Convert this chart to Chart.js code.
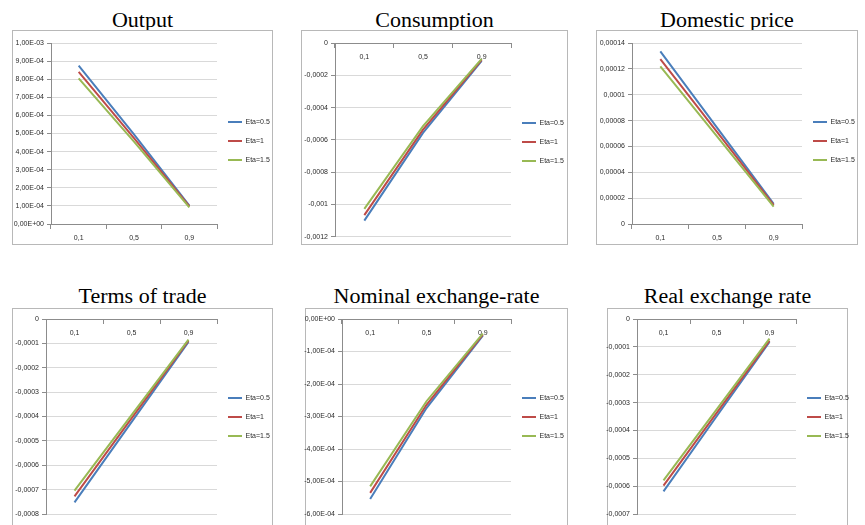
<!DOCTYPE html>
<html>
<head>
<meta charset="utf-8">
<script src="https://cdn.jsdelivr.net/npm/chart.js@4"></script>
<style>
  body { margin: 0; width: 865px; height: 525px; overflow: hidden; background: #fff; position: relative; }
  .title { position: absolute; font-family: 'Liberation Serif', 'Times New Roman', serif; font-size: 20px; line-height: 20px; text-align: center; color: #000; transform: scaleX(1.1); white-space: nowrap; }
  .frame { position: absolute; border: 1px solid #b8b8b8; box-sizing: border-box; background: #fff; }
  .frame canvas { position: absolute; top: 0; }
</style>
</head>
<body>
<script>
// Shock levels on the category axis and the three Eta series
const shockLevels = ['0,1', '0,5', '0,9'];
const etaLabels = ['Eta=0.5', 'Eta=1', 'Eta=1.5'];
const etaColors = ['#4a7ebb', '#be4b48', '#98b954'];

// Output
const outputEta05 = [8.75e-4, 4.95e-4, 1.01e-4];
const outputEta1  = [8.40e-4, 4.75e-4, 0.97e-4];
const outputEta15 = [8.05e-4, 4.55e-4, 0.92e-4];

// Consumption
const consEta05 = [-0.00110, -0.000557, -0.000110];
const consEta1  = [-0.001066, -0.000537, -0.000104];
const consEta15 = [-0.001027, -0.000515, -0.000098];

// Domestic price
const priceEta05 = [0.0001335, 0.0000745, 0.0000155];
const priceEta1  = [0.0001276, 0.0000712, 0.0000147];
const priceEta15 = [0.0001219, 0.0000677, 0.0000134];

// Terms of trade
const totEta05 = [-0.000752, -0.000423, -0.0000944];
const totEta1  = [-0.000728, -0.000408, -0.0000889];
const totEta15 = [-0.000704, -0.000394, -0.0000848];

// Nominal exchange-rate
const nerEta05 = [-0.000554, -0.000274, -0.000051];
const nerEta1  = [-0.000535, -0.000264, -0.000048];
const nerEta15 = [-0.000515, -0.000253, -0.000045];

// Real exchange rate
const rerEta05 = [-0.000619, -0.000350, -0.0000826];
const rerEta1  = [-0.000598, -0.000338, -0.0000778];
const rerEta15 = [-0.000579, -0.000325, -0.0000706];

// Axis ranges: [min, max, step]
const outputRange = [0, 0.001, 0.0001];
const consRange = [-0.0012, 0, 0.0002];
const priceRange = [0, 0.00014, 0.00002];
const totRange = [-0.0008, 0, 0.0001];
const nerRange = [-0.0006, 0, 0.0001];
const rerRange = [-0.0007, 0, 0.0001];

// "1,00E-03" style
function sci(v) {
    if (Math.abs(v) < 1e-12) v = 0;
    const [m, e] = v.toExponential(2).split('e');
    const n = parseInt(e, 10);
    return m.replace('.', ',') + 'E' + (n < 0 ? '-' : '+') + String(Math.abs(n)).padStart(2, '0');
}

// "-0,0002" style
function dec(v) {
    if (Math.abs(v) < 1e-12) return '0';
    return String(Number(v.toPrecision(6))).replace('.', ',');
}

const panels = [
    { title: 'Output', series: [outputEta05, outputEta1, outputEta15], range: outputRange, fmt: sci,
      box: [12, 30, 261, 215], titleTop: 10, left: 38, right: 55, top: 12, bottom: 20, legendMid: 110 },
    { title: 'Consumption', series: [consEta05, consEta1, consEta15], range: consRange, fmt: dec,
      box: [301, 30, 267, 215], titleTop: 10, left: 33, right: 56, top: 12, bottom: 5, legendMid: 110 },
    { title: 'Domestic price', series: [priceEta05, priceEta1, priceEta15], range: priceRange, fmt: dec,
      box: [596, 30, 262, 215], titleTop: 10, left: 35, right: 55, top: 12, bottom: 20, legendMid: 110 },
    { title: 'Terms of trade', series: [totEta05, totEta1, totEta15], range: totRange, fmt: dec,
      box: [12, 308, 261, 230], titleTop: 286, left: 33, right: 55, top: 10, bottom: 23, legendMid: 108 },
    { title: 'Nominal exchange-rate', series: [nerEta05, nerEta1, nerEta15], range: nerRange, fmt: sci,
      box: [305, 308, 263, 230], titleTop: 286, left: 36, right: 56, top: 10, bottom: 23, legendMid: 108 },
    { title: 'Real exchange rate', series: [rerEta05, rerEta1, rerEta15], range: rerRange, fmt: dec,
      box: [607, 308, 241, 230], titleTop: 286, left: 29, right: 51, top: 10, bottom: 23, legendMid: 108 }
];

// Canvas overhang past the frame so long tick and legend labels are not cut
const overhang = 8;

const tickFont = { family: "'Liberation Sans Narrow', 'Liberation Sans', sans-serif", size: 7 };
const textColor = '#2b2b2b';
const axisColor = '#8c8c8c';
const gridColor = '#d9d9d9';

// Fixed legend width and position next to the plot area
const legendFit = {
    id: 'legendFit',
    afterInit(chart, args, opts) {
        const legend = chart.legend;
        const fit = legend.fit;
        legend.fit = function () {
            fit.call(this);
            this.width = opts.width;
        };
    },
    afterLayout(chart, args, opts) {
        const legend = chart.legend;
        const dy = opts.mid - (chart.chartArea.top + chart.chartArea.bottom) / 2;
        legend.top += dy;
        legend.bottom += dy;
        legend.left += opts.dx;
        legend.right += opts.dx;
    }
};

panels.forEach(p => {
    const [bx, by, bw, bh] = p.box;

    const title = document.createElement('div');
    title.className = 'title';
    title.style.left = bx + 'px';
    title.style.top = p.titleTop + 'px';
    title.style.width = bw + 'px';
    title.textContent = p.title;
    document.body.appendChild(title);

    const frame = document.createElement('div');
    frame.className = 'frame';
    frame.style.left = bx + 'px';
    frame.style.top = by + 'px';
    frame.style.width = bw + 'px';
    frame.style.height = bh + 'px';
    const canvas = document.createElement('canvas');
    canvas.width = bw - 2 + overhang * 2;
    canvas.height = bh - 2;
    canvas.style.left = -overhang + 'px';
    frame.appendChild(canvas);
    document.body.appendChild(frame);

    const [min, max, step] = p.range;

    new Chart(canvas, {
        type: 'line',
        data: {
            labels: shockLevels,
            datasets: p.series.map((s, i) => ({
                label: etaLabels[i],
                data: s,
                borderColor: etaColors[i],
                backgroundColor: etaColors[i],
                borderWidth: 2,
                pointRadius: 0,
                tension: 0,
                order: 2 - i
            }))
        },
        options: {
            responsive: false,
            animation: false,
            layout: { padding: { left: 0, right: 0, top: p.top, bottom: p.bottom } },
            plugins: {
                legend: {
                    position: 'right',
                    align: 'center',
                    labels: {
                        boxWidth: 14,
                        boxHeight: 0,
                        padding: 12,
                        color: textColor,
                        font: tickFont,
                        sort: (a, b) => a.datasetIndex - b.datasetIndex
                    }
                },
                tooltip: { enabled: false },
                legendFit: { width: p.right + overhang, mid: p.legendMid, dx: -1 }
            },
            scales: {
                x: {
                    position: { y: 0 },
                    offset: true,
                    grid: { offset: true, drawOnChartArea: false, tickLength: 4, color: axisColor },
                    border: { color: axisColor },
                    ticks: { color: textColor, font: tickFont, padding: 6, maxRotation: 0 }
                },
                y: {
                    min: min,
                    max: max,
                    ticks: { stepSize: step, callback: v => p.fmt(v), color: textColor, font: tickFont, padding: 3 },
                    grid: { color: gridColor, tickLength: 4, tickColor: axisColor },
                    border: { color: axisColor },
                    afterFit: s => { s.width = p.left + overhang; }
                }
            }
        },
        plugins: [legendFit]
    });
});
</script>
</body>
</html>
